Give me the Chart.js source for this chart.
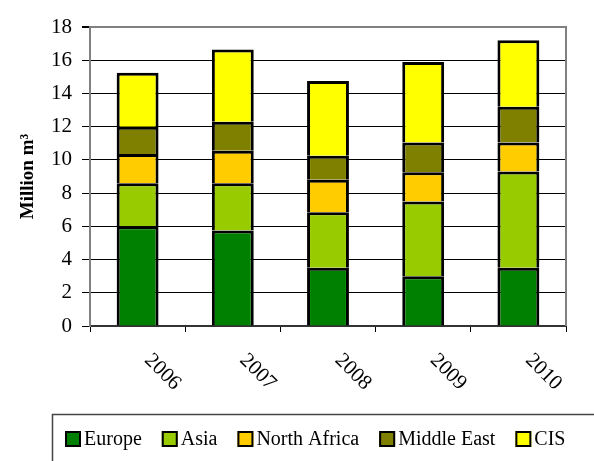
<!DOCTYPE html>
<html>
<head>
<meta charset="utf-8">
<script src="https://cdn.jsdelivr.net/npm/chart.js@4"></script>
<style>
  html, body { margin: 0; padding: 0; background: #fff; }
  #wrap { position: relative; width: 594px; height: 461px; }
</style>
</head>
<body>
<div id="wrap"><canvas id="gas-chart" width="594" height="461"></canvas></div>
<script>
// Chart data (million m3 per year)
const years = ['2006', '2007', '2008', '2009', '2010'];
const europe = [6.0, 5.75, 3.5, 3.0, 3.5];
const asia = [2.6, 2.85, 3.35, 4.5, 5.8];
const northAfrica = [1.75, 1.95, 1.95, 1.75, 1.75];
const middleEast = [1.65, 1.75, 1.45, 1.8, 2.15];
const cis = [3.25, 4.35, 4.5, 4.85, 4.0];
const yTicks = [0, 2, 4, 6, 8, 10, 12, 14, 16, 18];

const seriesNames = ['Europe', 'Asia', 'North Africa', 'Middle East', 'CIS'];
const seriesValues = [europe, asia, northAfrica, middleEast, cis];
const seriesColors = ['#008000', '#99CC00', '#FFCC00', '#808000', '#FFFF00'];

const FONT = "'Liberation Serif', 'Times New Roman', serif";

// draws rotated year labels and the plot frame
const frameAndLabels = {
  id: 'frameAndLabels',
  afterDraw(chart) {
    const { ctx, chartArea, scales } = chart;
    ctx.save();
    // right edge of plot area
    ctx.strokeStyle = '#808080';
    ctx.lineWidth = 2;
    ctx.beginPath();
    ctx.moveTo(chartArea.right, chartArea.top - 1);
    ctx.lineTo(chartArea.right, chartArea.bottom);
    ctx.stroke();

    // year labels slanting down to the right
    ctx.fillStyle = '#000';
    ctx.font = '21px ' + FONT;
    ctx.textAlign = 'center';
    ctx.textBaseline = 'middle';
    years.forEach((label, i) => {
      const x = scales.x.getPixelForTick(i) + 25;
      ctx.save();
      ctx.translate(x, chartArea.bottom + 46);
      ctx.rotate(Math.PI / 4);
      ctx.fillText(label, 0, 0);
      ctx.restore();
    });
    ctx.restore();
  }
};

// legend box at the bottom
const boxedLegend = {
  id: 'boxedLegend',
  afterDraw(chart) {
    const { ctx } = chart;
    ctx.save();
    ctx.strokeStyle = '#444';
    ctx.lineWidth = 1.5;
    ctx.strokeRect(52.5, 414.5, 560, 60);

    ctx.font = '20px ' + FONT;
    ctx.textBaseline = 'middle';
    ctx.textAlign = 'left';
    let x = 65;
    const y = 439;
    chart.data.datasets.forEach(ds => {
      ctx.fillStyle = ds.backgroundColor;
      ctx.fillRect(x, y - 8, 16, 16);
      ctx.strokeStyle = '#000';
      ctx.lineWidth = 2;
      ctx.strokeRect(x + 1, y - 7, 14, 14);
      ctx.fillStyle = '#000';
      ctx.fillText(ds.label, x + 19, y + 1);
      x += 19 + ctx.measureText(ds.label).width + 20;
    });
    ctx.restore();
  }
};

function renderChart() {
  const ctx = document.getElementById('gas-chart').getContext('2d');

  window.gasChart = new Chart(ctx, {
    type: 'bar',
    data: {
      labels: years,
      datasets: seriesNames.map((name, i) => ({
        label: name,
        data: seriesValues[i],
        backgroundColor: seriesColors[i],
        borderColor: '#000',
        borderWidth: 3,
        borderSkipped: 'start',
        inflateAmount: 0,
        categoryPercentage: 1,
        barPercentage: 0.44
      }))
    },
    options: {
      responsive: false,
      animation: false,
      layout: { padding: { top: 27, right: 28, bottom: 0, left: 0 } },
      plugins: {
        legend: { display: false },
        tooltip: { enabled: false }
      },
      scales: {
        x: {
          stacked: true,
          offset: true,
          grid: {
            offset: true,
            drawOnChartArea: false,
            tickLength: 6,
            tickColor: '#000',
            lineWidth: 1
          },
          border: { color: '#333', width: 2 },
          ticks: { display: false },
          afterFit: scale => { scale.height = 135; }
        },
        y: {
          stacked: true,
          min: 0,
          max: 18,
          afterBuildTicks: scale => { scale.ticks = yTicks.map(v => ({ value: v })); },
          grid: {
            color: c => (c.tick && c.tick.value === 18 ? '#808080' : '#000'),
            lineWidth: c => (c.tick && c.tick.value === 18 ? 2 : 1),
            tickColor: '#000',
            tickLength: 8
          },
          border: { color: '#808080', width: 2 },
          ticks: {
            padding: 10,
            color: '#000',
            font: { family: FONT, size: 21 }
          },
          title: {
            display: true,
            text: 'Million m³',
            color: '#000',
            font: { family: FONT, size: 19, weight: 'bold' },
            padding: { top: 17, bottom: 0 }
          },
          afterFit: scale => { scale.width = 90; }
        }
      }
    },
    plugins: [frameAndLabels, boxedLegend]
  });
}

document.addEventListener('DOMContentLoaded', renderChart);
</script>
</body>
</html>
